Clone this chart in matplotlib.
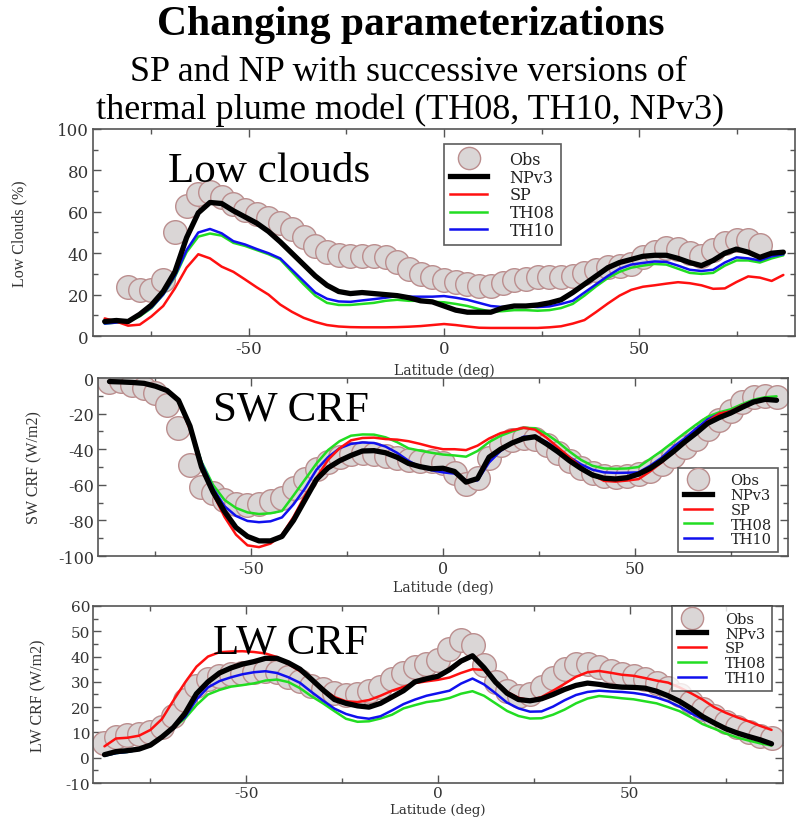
import numpy as np
import matplotlib
matplotlib.use("Agg")
import matplotlib.pyplot as plt
from matplotlib.lines import Line2D

plt.rcParams["axes.unicode_minus"] = False

nan = np.nan
# latitude grid (deg), every 3 degrees
lat = np.arange(-87, 88, 3)

# ---------------- Low clouds (%) ----------------
low_obs = [nan, nan, 23.5, 22, 22, 27, 50, 63, 68.5, 69.5,
           67, 64, 61, 59, 57, 54.5, 51.5, 48, 43.5, 40.5,
           39, 38.5, 38.5, 38.5, 38, 35.7, 32.5, 30, 28.5, 27,
           26, 25, 24.2, 24.2, 25.5, 27, 27.5, 28.5, 28.5, 28.7,
           29, 30.5, 32, 33.4, 33.8, 35, 38, 40.5, 42.5, 42,
           40, 38.6, 41.5, 45, 46.5, 46.5, 44, nan, nan]
low_npv3 = [7, 7.5, 7, 10.5, 15, 21.5, 31, 47.5, 59.5, 64.5,
            64, 60.5, 57.5, 54.5, 50.5, 45.5, 40, 34.5, 29, 24.5,
            21.5, 20.5, 21, 20.5, 20, 19.5, 18.5, 17, 16.5, 14.5,
            12.5, 11.5, 11.5, 11.5, 13.5, 14.5, 14.5, 15, 16, 17.5,
            21, 25, 29, 33, 35.5, 37, 38.5, 39, 39, 37.5,
            35.5, 34, 36.5, 40, 42, 40.5, 38, 40, 40.5]
low_sp = [8.5, 7, 5, 5.5, 9.5, 14.5, 23, 33, 39.5, 37.5,
          33.5, 31, 27.3, 23.5, 20, 15.2, 11.7, 8.8, 6.8, 5.3,
          4.6, 4.3, 4.2, 4.2, 4.2, 4.3, 4.5, 4.8, 5.3, 5.8,
          5.3, 4.6, 4, 3.9, 3.9, 3.9, 3.9, 3.9, 4.2, 4.7,
          6, 7.7, 11.6, 15.7, 19.5, 22.3, 23.8, 24.5, 25.3, 26,
          25.5, 24.5, 22.8, 23, 26.1, 28.8, 28.2, 26.6, 29.5]
low_th08 = [6, 6.5, 7, 9.5, 13.5, 20, 28.5, 40.5, 48, 49.5,
            48.5, 45, 43.5, 41.5, 39.5, 37, 31, 25, 19.5, 16,
            15, 15, 15.5, 16, 17, 17.5, 17, 17, 16.5, 16.3,
            15.5, 14.5, 13, 11.8, 12, 12.5, 12.5, 12.2, 12.5, 13.5,
            15.5, 19.5, 24, 28, 31, 33, 34, 34.8, 34.5, 32.5,
            30.5, 30, 30.5, 34, 36.5, 36.5, 35.5, 37.5, 39]
low_th10 = [6, 6.5, 7, 10, 13.8, 20, 29, 41.5, 50, 51.7,
            49.6, 45.8, 44.2, 42, 40, 37.5, 32, 26.5, 21, 18,
            16.7, 16.5, 17.2, 17.8, 18.5, 19.3, 19, 19, 19, 19.3,
            18.5, 17.5, 16, 14.5, 14, 14.5, 14.3, 14, 14.3, 15.5,
            17, 21, 25, 29, 32.5, 34.5, 35.3, 36, 35.8, 34,
            32, 31.4, 32, 35.5, 38, 37.5, 36.5, 38.5, 39.5]

# ---------------- SW CRF (W/m2) ----------------
sw_obs = [-2.5, -1.8, -3.8, -5.6, -8.5, -15, -28, -49, -61, -64.5,
          -68.5, -71, -71.6, -70.7, -69.2, -67.2, -62, -56.5, -51.3, -47.3,
          -44.5, -42.7, -42.2, -42.8, -44, -45.2, -46, -46.5, -46.5, -47.5,
          -53.5, -59.5, -56, -45, -37.8, -35, -33.8, -34, -37.5, -42,
          -46.5, -50.5, -53.5, -55, -55.5, -55.2, -54, -52, -48.5, -44,
          -39, -34, -28.5, -23.5, -18.3, -13.5, -10.5, -10, -10.5]
sw_npv3 = [-2, -2.2, -2.5, -3, -4.6, -7, -12.5, -27, -50, -64,
           -75, -84, -89, -91.5, -91.5, -89, -80, -68.5, -57, -50.5,
           -46.5, -43.5, -41, -40.8, -42, -44.5, -48, -49.8, -51, -50.7,
           -52.5, -58.5, -56.5, -44.5, -40, -36.5, -34, -33, -37, -41.5,
           -46.5, -50.8, -54.5, -56.3, -56.7, -56, -54, -50.8, -46.5, -41.5,
           -36, -31, -25.5, -22.3, -19.7, -16.5, -13.5, -12, -12.5]
sw_sp = [-1.5, -2, -2.3, -3, -4.5, -7, -12.5, -29, -49, -65,
         -78, -88, -94, -95, -93, -88, -78, -66, -56, -46,
         -39.5, -35, -33.7, -33.5, -34.3, -34.6, -35.5, -37, -38.7, -40,
         -40, -40.5, -38, -34, -31, -29.3, -28, -29, -33.5, -39,
         -44.5, -50, -54.5, -57.8, -58.2, -57.6, -56.8, -52.5, -47.5, -41.5,
         -36, -31, -24.5, -20, -18.7, -15.5, -13, -12, -12.5]
sw_th08 = [-2, -2.2, -2.5, -3, -4.5, -7, -13, -27, -47, -60,
           -68.5, -73, -75.5, -76.4, -76, -74.7, -66, -57, -48, -40.5,
           -35.5, -32.4, -31.7, -31.8, -33.3, -36, -39.5, -40.8, -42, -43,
           -43.5, -44.2, -41, -36, -32.5, -30, -28, -28.2, -31.5, -36,
           -41.3, -46, -49.3, -50.8, -51, -50.8, -50, -45.5, -41, -36,
           -31, -26.2, -21.8, -19.3, -17.6, -14.7, -12.2, -10.8, -10.3]
sw_th10 = [-2, -2.2, -2.5, -3.2, -4.5, -7.5, -13, -27, -47.5, -62,
           -72, -77.5, -80.3, -81, -80.5, -78.3, -71, -62, -51.5, -44.5,
           -39.5, -37, -36.2, -36.5, -38.5, -42, -46.5, -50, -51.8, -53,
           -53.7, -57.5, -57.5, -47.5, -41, -36.5, -33, -33, -36, -40,
           -44.5, -48.5, -51.5, -53, -53.3, -53.2, -53, -49.3, -44.8, -38.8,
           -34, -28.5, -23.3, -20.2, -18.7, -15.5, -12.8, -12, -12]

# ---------------- LW CRF (W/m2) ----------------
lw_obs = [6, 8, 8.9, 9.4, 10, 12.3, 16.5, 23, 28.5, 31.2,
          32.5, 33, 33.4, 33.8, 34.3, 34, 31.8, 30.3, 28.5, 27,
          25.6, 24.8, 25, 26.2, 28, 31, 33.5, 36, 37, 38.5,
          43, 46.5, 44.5, 36.5, 30, 26.5, 24.5, 25.3, 28, 31.5,
          35, 37, 37.2, 36, 34.2, 33, 32.2, 31.2, 29.5, 27.5,
          24.8, 22.2, 19.3, 16.6, 14.3, 12, 10, 8.4, 7.8]
lw_npv3 = [1.2, 2.4, 2.8, 3.4, 5, 8.2, 12, 17.5, 25.3, 30,
           33.5, 35.5, 37, 38, 39.3, 39.3, 37.5, 35, 31, 26.8,
           23, 21.5, 20.5, 20, 21.5, 24, 26.5, 30, 31.2, 32.2,
           34.8, 38.2, 40.3, 35.6, 29.9, 25.5, 23, 22.5, 23.3, 25,
           27, 28.6, 29.5, 29, 28.3, 27.9, 27.8, 27.5, 26.3, 24.5,
           22.3, 19.5, 16.3, 13.8, 11.5, 9.8, 8.4, 7.1, 5.5]
lw_sp = [4.5, 7.6, 7.9, 8.7, 11, 15.3, 22.7, 29.7, 36, 40,
         41.7, 42, 42.1, 41.8, 41.2, 39.8, 37, 34.2, 31, 27,
         24, 22.3, 22, 22.8, 24.5, 26.5, 28, 29.5, 30.2, 30.8,
         31.7, 33.5, 35, 34.7, 30, 26, 23.7, 22.7, 24, 26.5,
         29.2, 32, 33.8, 34.3, 33.6, 32.8, 32.4, 31.5, 30.5, 29.7,
         27.8, 25.5, 23, 20, 17.8, 16, 14.4, 12.6, 11]
lw_th08 = [0.8, 1.8, 2.3, 3.2, 4.8, 8, 12, 15.5, 20.8, 25,
           26.8, 28.1, 28.7, 29.4, 30.5, 30.9, 29.9, 27.5, 24.3, 21.5,
           18.4, 15.4, 14.2, 14.4, 15.5, 17, 19.5, 20.8, 22, 22.6,
           23.6, 25.3, 26.3, 24.5, 21.5, 18.5, 16.5, 15.5, 15.6, 17,
           19, 21.5, 23.4, 24.4, 24, 23.5, 23.1, 22.3, 21.5, 20,
           18.4, 16, 13.3, 11.5, 9.6, 8, 6.8, 5.7, 4.8]
lw_th10 = [0.8, 1.8, 2.3, 3.2, 5, 8.2, 12.3, 16, 23, 27.8,
           30.3, 31.8, 33, 33.8, 34.2, 33.5, 31.8, 29.6, 26, 22.6,
           19.4, 17.3, 16, 15.4, 16.4, 18.7, 21.2, 23, 24.5, 25.5,
           26.5, 29.3, 31.3, 29, 25.5, 21.8, 19.5, 18.2, 18.3, 20.2,
           22.7, 24.8, 26, 26.5, 26.2, 26, 25.6, 24.9, 23.8, 22.3,
           20.2, 17.6, 15.3, 13.6, 11.7, 10, 8.3, 7.1, 5.7]

series_names = ["Obs", "NPv3", "SP", "TH08", "TH10"]
line_colors = {"NPv3": "#000000", "SP": "#ff1010", "TH08": "#22dd22", "TH10": "#1010ee"}
line_widths = {"NPv3": 3.8, "SP": 1.8, "TH08": 1.8, "TH10": 1.8}
obs_face = "#dad6d6"
obs_edge = "#bb8e8e"

SERIF = ["Liberation Serif", "DejaVu Serif"]
TICKFONT = ["DejaVu Serif"]

fig = plt.figure(figsize=(7.96, 8.20), dpi=100)


def draw_panel(ax, obs, models, ylim, ymaj, ymin, ylabel, ylab_x, xlab_y,
               leg_loc, leg_anchor, leg_size, tick_size, tick_pad, xlab_size,
               hlen, htpad):
    ax.plot(lat, obs, linestyle="none", marker="o", ms=17,
            mfc=obs_face, mec=obs_edge, mew=1.0, zorder=2)
    for name in ["TH08", "TH10", "SP", "NPv3"]:
        ax.plot(lat, models[name], color=line_colors[name],
                lw=line_widths[name], zorder=3 if name != "NPv3" else 4,
                solid_capstyle="round", solid_joinstyle="round")
    ax.set_xlim(-90, 90)
    ax.set_ylim(*ylim)
    ax.set_xticks([-50, 0, 50])
    ax.set_xticks([-75, -25, 25, 75], minor=True)
    ax.set_yticks(ymaj)
    ax.set_yticks(ymin, minor=True)
    ax.tick_params(which="both", direction="in", top=True, right=True,
                   color="#555555", labelcolor="#333333")
    ax.tick_params(which="major", length=6, width=1.0, labelsize=tick_size, pad=tick_pad)
    ax.tick_params(which="minor", length=3.5, width=1.0)
    for lab in ax.get_xticklabels() + ax.get_yticklabels():
        lab.set_family(TICKFONT)
    for sp in ax.spines.values():
        sp.set_color("#555555")
        sp.set_linewidth(1.2)
    ax.set_xlabel("Latitude (deg)", family=TICKFONT, fontsize=xlab_size, color="#333333")
    ax.xaxis.set_label_coords(0.5, xlab_y)
    ax.set_ylabel(ylabel, family=SERIF, fontsize=11.5, color="#333333")
    ax.yaxis.set_label_coords(ylab_x, 0.5)

    handles = [Line2D([], [], linestyle="none", marker="o", ms=16,
                      mfc=obs_face, mec=obs_edge, mew=1.0)]
    for name in series_names[1:]:
        handles.append(Line2D([], [], color=line_colors[name], lw=line_widths[name]))
    leg = ax.legend(handles, series_names, loc=leg_loc, bbox_to_anchor=leg_anchor,
                    frameon=True, fancybox=False, edgecolor="#333333",
                    prop={"family": TICKFONT, "size": leg_size},
                    handlelength=hlen, handletextpad=htpad, labelspacing=0.05,
                    borderpad=0.4, borderaxespad=0.0)
    leg.get_frame().set_linewidth(1.2)
    for t in leg.get_texts():
        t.set_color("#222222")
    leg.set_zorder(10)


ax1 = fig.add_axes([0.1168, 0.589, 0.882, 0.2525])
draw_panel(ax1, low_obs,
           {"NPv3": low_npv3, "SP": low_sp, "TH08": low_th08, "TH10": low_th10},
           (0, 100), np.arange(0, 101, 20), np.arange(10, 100, 20),
           "Low Clouds (%)", -0.094, -0.13,
           "upper left", (0.50, 0.925), 11.5, 12, 3, 10, 2.3, 1.4)

ax2 = fig.add_axes([0.1231, 0.3207, 0.8669, 0.2171])
draw_panel(ax2, sw_obs,
           {"NPv3": sw_npv3, "SP": sw_sp, "TH08": sw_th08, "TH10": sw_th10},
           (-100, 0), np.arange(-100, 1, 20), np.arange(-90, 0, 20),
           "SW CRF (W/m2)", -0.081, -0.13,
           "lower right", (0.985, 0.022), 10.5, 11.5, 3, 10, 1.9, 1.3)

ax3 = fig.add_axes([0.1168, 0.0439, 0.8669, 0.2159])
draw_panel(ax3, lw_obs,
           {"NPv3": lw_npv3, "SP": lw_sp, "TH08": lw_th08, "TH10": lw_th10},
           (-10, 60), np.arange(-10, 61, 10), np.arange(-5, 60, 10),
           "LW CRF (W/m2)", -0.067, -0.115,
           "upper right", (0.984, 1.0), 10.5, 11, 2, 9.5, 1.9, 1.3)

# headings and panel names
fig.text(0.516, 0.9695, "Changing parameterizations", ha="center", va="center",
         family=SERIF, fontsize=30, fontweight="bold")
fig.text(0.513, 0.912, "SP and NP with successive versions of", ha="center",
         va="center", family=SERIF, fontsize=26)
fig.text(0.515, 0.866, "thermal plume model (TH08, TH10, NPv3)", ha="center",
         va="center", family=SERIF, fontsize=26)
fig.text(0.211, 0.790, "Low clouds", ha="left", va="center", family=SERIF, fontsize=31)
fig.text(0.268, 0.500, "SW CRF", ha="left", va="center", family=SERIF, fontsize=31)
fig.text(0.268, 0.216, "LW CRF", ha="left", va="center", family=SERIF, fontsize=31)

fig.savefig("out.png", dpi=100)
